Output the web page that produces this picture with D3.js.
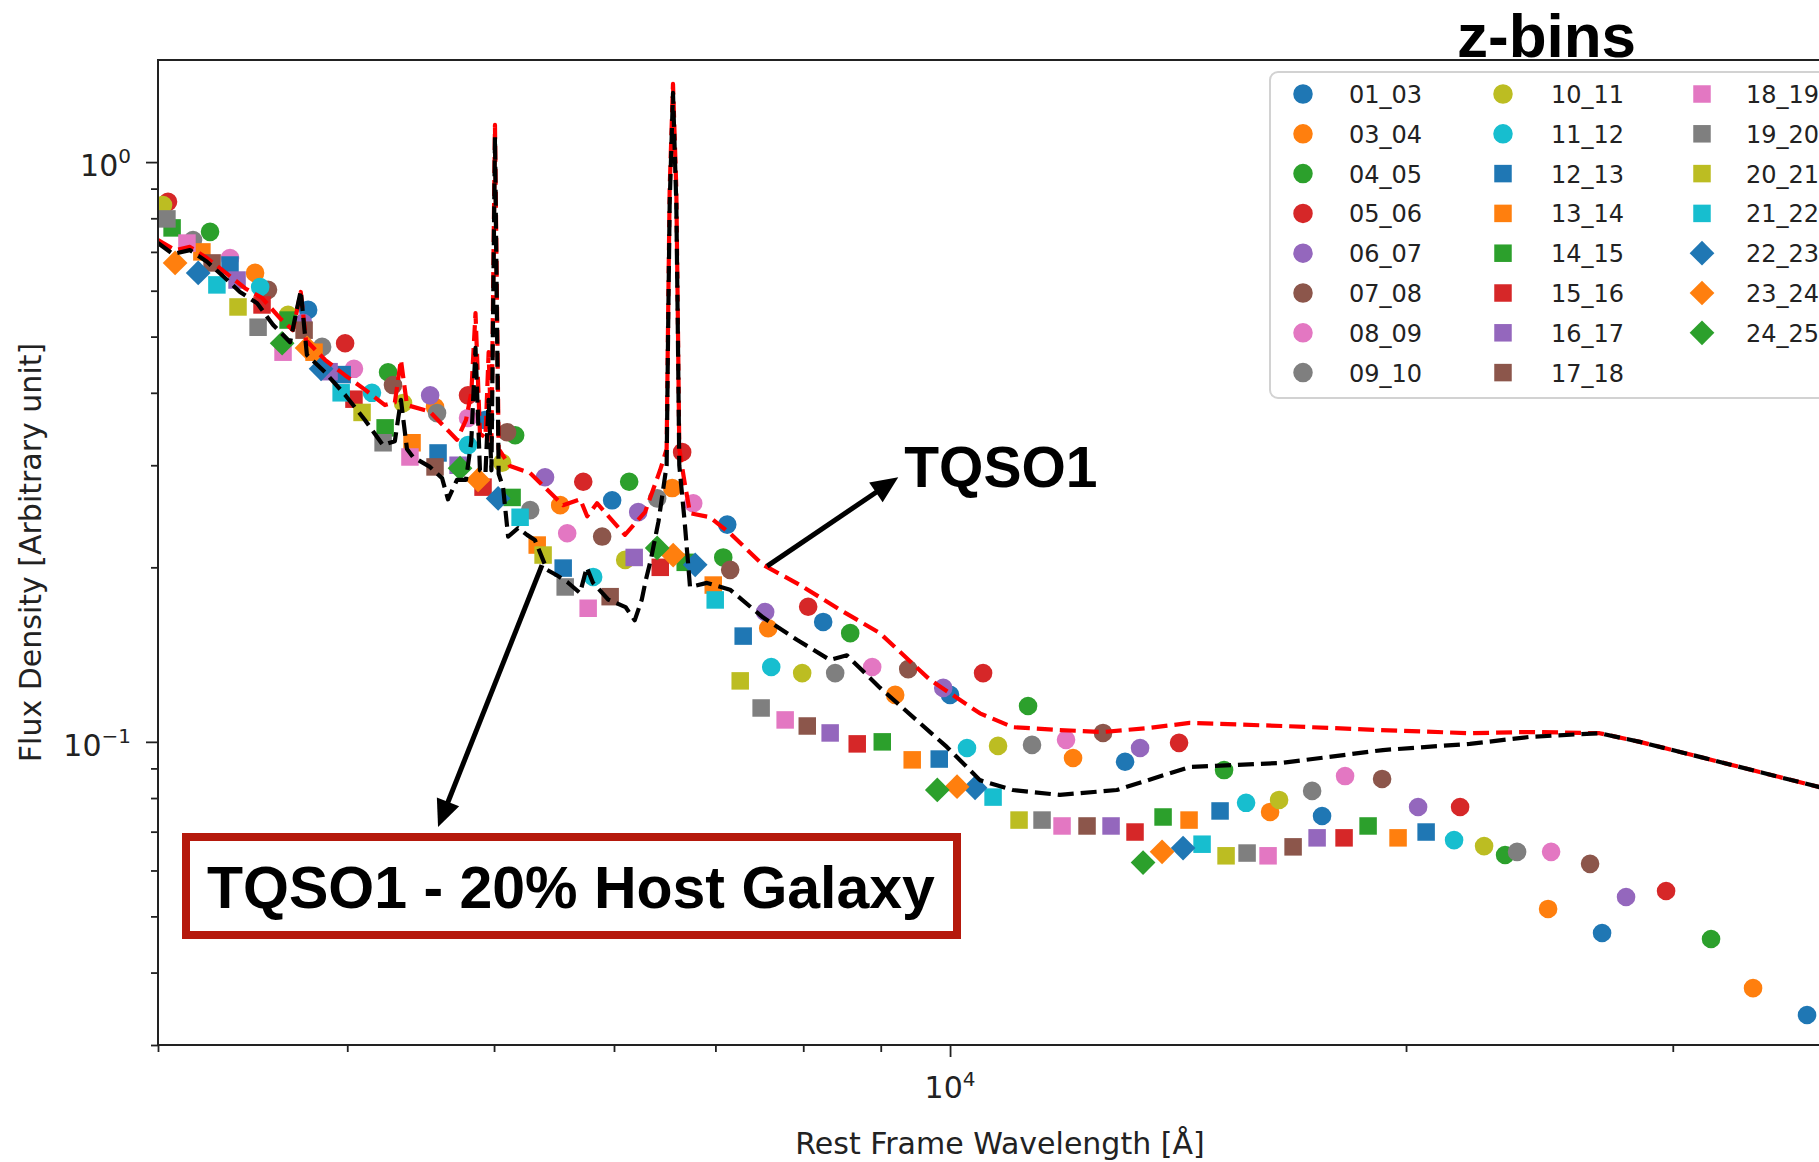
<!DOCTYPE html>
<html>
<head>
<meta charset="utf-8">
<script src="https://cdn.jsdelivr.net/npm/d3@7"></script>
<style>
  html, body { margin: 0; padding: 0; background: #fff; overflow: hidden; }
  svg { display: block; }
</style>
</head>
<body>
<svg id="chart" width="1819" height="1162"></svg>
<script>
// ---------------------------------------------------------------------------
// Redshift bins: label, colour and marker shape
// ---------------------------------------------------------------------------
const binLabels = ["01_03","03_04","04_05","05_06","06_07","07_08","08_09","09_10",
                   "10_11","11_12","12_13","13_14","14_15","15_16","16_17","17_18",
                   "18_19","19_20","20_21","21_22","22_23","23_24","24_25"];
const binColors = ["#1f77b4","#ff7f0e","#2ca02c","#d62728","#9467bd","#8c564b","#e377c2","#7f7f7f",
                   "#bcbd22","#17becf","#1f77b4","#ff7f0e","#2ca02c","#d62728","#9467bd","#8c564b",
                   "#e377c2","#7f7f7f","#bcbd22","#17becf","#1f77b4","#ff7f0e","#2ca02c"];
const binShapes = ["circle","circle","circle","circle","circle","circle","circle","circle",
                   "circle","circle","square","square","square","square","square","square",
                   "square","square","square","square","diamond","diamond","diamond"];

// Stacked photometric SEDs per bin: [rest-frame wavelength (Å), flux density]
const s01_03 = [[3769,0.556],[4932,0.359],[5983,0.261],[7127,0.237],[8246,0.161],[10000,0.1205],[13048,0.0924],[17603,0.0745],[26943,0.0468],[36792,0.0338]];
const s03_04 = [[3477,0.644],[4571,0.378],[5529,0.256],[6555,0.274],[7585,0.157],[9200,0.1205],[12056,0.0938],[16266,0.0757],[24820,0.0515],[33893,0.0376]];
const s04_05 = [[3247,0.758],[4256,0.434],[5163,0.338],[6140,0.281],[7084,0.208],[8592,0.154],[11259,0.1153],[15167,0.0894],[23250,0.0638],[31797,0.0457]];
const s05_06 = [[3046,0.854],[3987,0.487],[4806,0.396],[5726,0.281],[6655,0.316],[8060,0.171],[10515,0.1314],[14164,0.0996],[21713,0.0772],[29696,0.0553]];
const s06_07 = [[3740,0.528],[4537,0.396],[5403,0.286],[6225,0.249],[7550,0.1675],[9897,0.1239],[13349,0.0976],[20370,0.0772],[27943,0.054]];
const s07_08 = [[3546,0.602],[4288,0.4125],[5100,0.342],[5893,0.226],[7159,0.198],[9384,0.1335],[12618,0.1036],[19285,0.0863],[26456,0.0616]];
const s08_09 = [[3347,0.683],[4041,0.44],[4806,0.362],[5588,0.229],[6768,0.258],[8884,0.1346],[11928,0.1008],[18230,0.0873],[24934,0.0646]];
const s09_10 = [[3164,0.734],[3850,0.480],[4585,0.369],[5282,0.251],[6407,0.263],[8398,0.1314],[11327,0.0988],[17339,0.0823],[23677,0.0646]];
const s10_11 = [[3023,0.843],[3656,0.545],[4354,0.384],[5062,0.303],[6103,0.206],[7987,0.1314],[10757,0.0984],[16490,0.0794],[22519,0.0661]];
const s11_12 = [[3504,0.609],[4153,0.40],[4806,0.325],[5813,0.1925],[7620,0.1346],[10261,0.0976],[15683,0.0785],[21515,0.0677]];
const s12_13 = [[3347,0.6645],[3969,0.43],[4592,0.315],[5554,0.1994],[7302,0.1522],[9837,0.0934],[15075,0.076],[20620,0.0699]];
const s13_14 = [[3207,0.700],[3803,0.47],[4414,0.328],[5339,0.2185],[6977,0.1864],[9441,0.0931],[14381,0.0733],[19759,0.0683]];
const s14_15 = [[3065,0.770],[3656,0.534],[4237,0.348],[5139,0.264],[6686,0.204],[9021,0.100],[13824,0.0742],[18879,0.0716]];
const s15_16 = [[3514,0.567],[4041,0.39],[4917,0.275],[6437,0.200],[8684,0.0992],[13247,0.0699],[18202,0.0683]];
const s16_17 = [[3383,0.626],[3891,0.435],[4734,0.300],[6187,0.208],[8334,0.1036],[12773,0.0716],[17471,0.0683]];
const s17_18 = [[3257,0.670],[3746,0.513],[4571,0.298],[5965,0.178],[8049,0.1065],[12315,0.0716],[16845,0.0659]];
const s18_19 = [[3135,0.725],[3628,0.470],[4400,0.310],[5769,0.170],[7783,0.1091],[11856,0.0716],[16216,0.0636]];
const s19_20 = [[3041,0.798],[3493,0.519],[4224,0.328],[5571,0.185],[7504,0.1144],[11501,0.0733],[15707,0.0643]];
const s20_21 = [[3388,0.5625],[4091,0.37],[5387,0.210],[7269,0.1274],[11106,0.0733],[15213,0.0636]];
const s21_22 = [[3281,0.614],[3963,0.40],[5202,0.244],[6998,0.1757],[10676,0.0803],[14668,0.0666]];
const s22_23 = [[3189,0.644],[3844,0.44],[5031,0.263],[6788,0.202],[10388,0.0833],[14251,0.0656]];
const s23_24 = [[3079,0.670],[3763,0.478],[4880,0.283],[6565,0.210],[10107,0.0837],[13803,0.0646]];
const s24_25 = [[3623,0.487],[4748,0.2965],[6407,0.216],[9808,0.0826],[13410,0.0619]];

const binSeries = [s01_03,s03_04,s04_05,s05_06,s06_07,s07_08,s08_09,s09_10,s10_11,s11_12,
                   s12_13,s13_14,s14_15,s15_16,s16_17,s17_18,s18_19,s19_20,s20_21,s21_22,
                   s22_23,s23_24,s24_25];

// Template quasar spectrum TQSO1
const tqso1Wave = [3000,3079,3149,3232,3321,3424,3514,3611,3683,3727,3757,3867,3986,4109,4236,4300,4340,4380,
  4536,4726,4791,4830,4861,4894,4935,4959,4980,5007,5035,5123,5281,5553,5700,5760,5847,6101,6290,6435,6500,6515,6530,6563,
  6596,6611,6626,6680,6735,6943,7157,7524,7959,8459,8988,9698,10464,11002,11815,12616,13546,14394,16581,19222,
  22037,24144,26837,28534,31256,34236,37458,39861];
const tqso1Flux = [0.734,0.705,0.714,0.683,0.646,0.606,0.583,0.538,0.513,0.597,0.493,0.456,0.429,0.405,0.381,0.385,0.456,0.381,
  0.371,0.332,0.359,0.40,0.549,0.34,0.335,0.47,0.33,1.159,0.32,0.299,0.291,0.256,0.262,0.245,0.258,0.2275,0.249,0.294,0.32,0.55,0.9,1.364,
  0.9,0.55,0.32,0.28,0.248,0.244,0.229,0.202,0.1865,0.169,0.154,0.128,0.112,0.106,0.1048,0.104,0.1057,0.1078,0.1065,0.1048,
  0.1035,0.104,0.1035,0.100,0.0942,0.0887,0.0836,0.0794];

// TQSO1 with 20% host galaxy contribution
const tqso1HostWave = [3000,3069,3149,3232,3311,3398,3488,3573,3667,3727,3762,3867,3986,4109,4223,4300,4340,4380,4420,
  4536,4620,4662,4726,4791,4830,4861,4894,4935,4959,4980,5007,5035,5069,5108,5186,5257,5320,5420,5496,5588,5698,5757,
  5812,5947,6106,6192,6259,6297,6345,6420,6500,6515,6530,6563,6596,6611,6626,6680,6735,6911,7157,7524,7923,8330,8549,
  8988,9951,10464,11002,11815,12886,14394,16581,19309,22037,24144,26837,28534,31256,34236,37458,39861];
const tqso1HostFlux = [0.725,0.694,0.705,0.673,0.636,0.597,0.571,0.524,0.489,0.60,0.465,0.434,0.397,0.359,0.325,0.33,0.389,0.32,0.310,
  0.298,0.285,0.262,0.283,0.283,0.33,0.478,0.294,0.29,0.389,0.294,1.105,0.29,0.275,0.226,0.2337,0.2275,0.223,0.198,0.194,0.1887,0.1806,0.200,
  0.188,0.176,0.1708,0.162,0.176,0.19,0.206,0.24,0.30,0.52,0.85,1.316,0.85,0.52,0.30,0.24,0.185,0.188,0.183,0.164,0.150,0.1385,0.141,
  0.124,0.098,0.0859,0.0826,0.081,0.0826,0.0905,0.092,0.0968,0.0992,0.102,0.1035,0.100,0.0942,0.0887,0.0836,0.0794];

// Axis ticks
const xMajorTicks = [10000];
const xMajorLabels = [["10","4"]];
const xMinorTicks = [3000,4000,5000,6000,7000,8000,9000,20000,30000];
const yMajorTicks = [0.1, 1];
const yMajorLabels = [["10","\u22121"],["10","0"]];
const yMinorTicks = [0.03,0.04,0.05,0.06,0.07,0.08,0.09,0.2,0.3,0.4,0.5,0.6,0.7,0.8,0.9];

// ---------------------------------------------------------------------------
const svg = d3.select("#chart");
const plot = { left: 158, top: 60, right: 1842, bottom: 1045 };
const x = d3.scaleLog().domain([3000, 38800]).range([plot.left, plot.right]);
const y = d3.scaleLog().domain([0.03, 1.5]).range([plot.bottom, plot.top]);

const axisFont = "'DejaVu Sans', sans-serif";
const boldFont = "'Liberation Sans', Arial, Helvetica, sans-serif";

svg.append("rect").attr("width", 1819).attr("height", 1162).attr("fill", "#fff");

svg.append("defs").append("clipPath").attr("id", "plotClip")
  .append("rect").attr("x", plot.left).attr("y", plot.top)
  .attr("width", plot.right - plot.left).attr("height", plot.bottom - plot.top);

// marker paths
const symCircle = d3.symbol().type(d3.symbolCircle).size(Math.PI * 9.3 * 9.3);
const symSquare = d3.symbol().type(d3.symbolSquare).size(17.5 * 17.5);
function markerPath(shape) {
  return shape === "circle" ? symCircle() : symSquare();
}
function markerTransform(shape, px, py) {
  return shape === "diamond" ? `translate(${px},${py}) rotate(45)` : `translate(${px},${py})`;
}

// ---- scatter points ----
const pts = svg.append("g").attr("clip-path", "url(#plotClip)");
binSeries.forEach((series, i) => {
  pts.append("g").selectAll("path").data(series).join("path")
    .attr("d", markerPath(binShapes[i]))
    .attr("transform", d => markerTransform(binShapes[i], x(d[0]), y(d[1])))
    .attr("fill", binColors[i]);
});

// ---- template spectra ----
const lineGen = d3.line().x(d => x(d[0])).y(d => y(d[1]));
const curves = svg.append("g").attr("clip-path", "url(#plotClip)");
curves.append("path")
  .datum(tqso1Wave.map((w, i) => [w, tqso1Flux[i]]))
  .attr("d", lineGen).attr("fill", "none").attr("stroke", "#ff0000")
  .attr("stroke-width", 4.2).attr("stroke-dasharray", "16,7").attr("stroke-linejoin", "round");
curves.append("path")
  .datum(tqso1HostWave.map((w, i) => [w, tqso1HostFlux[i]]))
  .attr("d", lineGen).attr("fill", "none").attr("stroke", "#000000")
  .attr("stroke-width", 4.2).attr("stroke-dasharray", "16,7").attr("stroke-linejoin", "round");

// ---- axes ----
const axes = svg.append("g").attr("font-family", axisFont);

const xMinorAxis = d3.axisBottom(x).tickValues(xMinorTicks).tickSize(7).tickFormat("").tickSizeOuter(0);
const xMajorAxis = d3.axisBottom(x).tickValues(xMajorTicks).tickSize(12).tickFormat("").tickSizeOuter(0);
const yMinorAxis = d3.axisLeft(y).tickValues(yMinorTicks).tickSize(7).tickFormat("").tickSizeOuter(0);
const yMajorAxis = d3.axisLeft(y).tickValues(yMajorTicks).tickSize(12).tickFormat("").tickSizeOuter(0);

[xMinorAxis, xMajorAxis].forEach(ax => {
  const g = axes.append("g").attr("transform", `translate(0,${plot.bottom})`).call(ax);
  g.select(".domain").remove();
  g.selectAll(".tick line").attr("stroke", "#222").attr("stroke-width", 1.8);
});
[yMinorAxis, yMajorAxis].forEach(ax => {
  const g = axes.append("g").attr("transform", `translate(${plot.left},0)`).call(ax);
  g.select(".domain").remove();
  g.selectAll(".tick line").attr("stroke", "#222").attr("stroke-width", 1.8);
});

// spines
axes.append("path")
  .attr("d", `M${plot.right},${plot.top}H${plot.left}V${plot.bottom}H${plot.right}`)
  .attr("fill", "none").attr("stroke", "#222").attr("stroke-width", 2);

// tick labels with superscript exponents
xMajorTicks.forEach((v, i) => {
  const t = axes.append("text").attr("x", x(v)).attr("y", plot.bottom + 53)
    .attr("text-anchor", "middle").attr("font-size", 30).attr("fill", "#222");
  t.append("tspan").text(xMajorLabels[i][0]);
  t.append("tspan").attr("font-size", 20).attr("dy", -12).text(xMajorLabels[i][1]);
});
yMajorTicks.forEach((v, i) => {
  const t = axes.append("text").attr("x", plot.left - 27).attr("y", y(v) + 14)
    .attr("text-anchor", "end").attr("font-size", 30).attr("fill", "#222");
  t.append("tspan").text(yMajorLabels[i][0]);
  t.append("tspan").attr("font-size", 20).attr("dy", -13).text(yMajorLabels[i][1]);
});

// axis titles
axes.append("text").attr("x", (plot.left + plot.right) / 2).attr("y", 1154)
  .attr("text-anchor", "middle").attr("font-size", 30).attr("fill", "#222")
  .text("Rest Frame Wavelength [\u00C5]");
axes.append("text").attr("transform", `translate(41,${(plot.top + plot.bottom) / 2}) rotate(-90)`)
  .attr("text-anchor", "middle").attr("font-size", 30).attr("fill", "#222")
  .text("Flux Density [Arbitrary unit]");

// ---- legend ----
const legend = svg.append("g").attr("font-family", axisFont);
legend.append("rect").attr("x", 1270).attr("y", 72).attr("width", 600).attr("height", 326)
  .attr("rx", 8).attr("fill", "#fff").attr("fill-opacity", 0.85)
  .attr("stroke", "#d2d2d2").attr("stroke-width", 2);
const legCols = [{ mx: 1303, tx: 1349 }, { mx: 1503, tx: 1551 }, { mx: 1702, tx: 1746 }];
const rowsPerCol = 8;
binLabels.forEach((lab, i) => {
  const col = legCols[Math.floor(i / rowsPerCol)];
  const cy = 94 + (i % rowsPerCol) * 39.8;
  legend.append("path").attr("d", markerPath(binShapes[i]))
    .attr("transform", markerTransform(binShapes[i], col.mx, cy) + (binShapes[i] === "circle" ? " scale(1.05)" : ""))
    .attr("fill", binColors[i]);
  legend.append("text").attr("x", col.tx).attr("y", cy + 9)
    .attr("font-size", 24).attr("fill", "#222").text(lab);
});

// ---- annotations ----
const notes = svg.append("g").attr("font-family", boldFont).attr("font-weight", "bold");
notes.append("text").attr("x", 1457).attr("y", 57).attr("font-size", 62).attr("fill", "#000").text("z-bins");

function arrow(g, x1, y1, x2, y2, headLen, headHalf, width) {
  const dx = x2 - x1, dy = y2 - y1, L = Math.hypot(dx, dy);
  const ux = dx / L, uy = dy / L;
  const bx = x2 - ux * headLen, by = y2 - uy * headLen;
  g.append("line").attr("x1", x1).attr("y1", y1).attr("x2", bx + ux * 3).attr("y2", by + uy * 3)
    .attr("stroke", "#000").attr("stroke-width", width);
  g.append("path")
    .attr("d", `M${x2},${y2}L${bx - uy * headHalf},${by + ux * headHalf}L${bx + uy * headHalf},${by - ux * headHalf}Z`)
    .attr("fill", "#000");
}

// arrow from the TQSO1 curve to its label
arrow(notes, x(7573), y(0.201), x(9243), y(0.286), 27, 12, 5);
notes.append("text").attr("x", x(9243) + 6).attr("y", y(0.286) + 10)
  .attr("font-size", 57).attr("fill", "#000").text("TQSO1");

// arrow from the host-subtracted curve down to the boxed label
arrow(notes, x(5378), y(0.2018), x(4592), y(0.0713), 27, 12, 5);
notes.append("rect").attr("x", 186).attr("y", 837).attr("width", 771).attr("height", 98)
  .attr("fill", "#fff").attr("stroke", "#b5190c").attr("stroke-width", 8);
notes.append("text").attr("x", 207).attr("y", 908).attr("font-size", 59).attr("fill", "#000")
  .text("TQSO1 - 20% Host Galaxy");
</script>
</body>
</html>
